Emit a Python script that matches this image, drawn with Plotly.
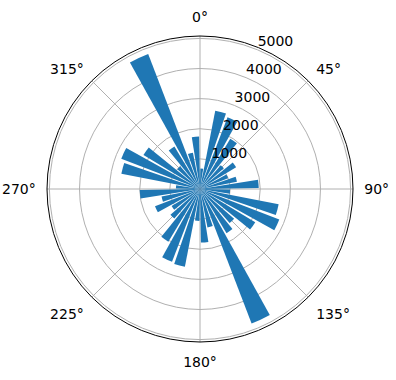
import plotly.graph_objects as go

# Direction bin centres (degrees, clockwise from north)
directions = [5, 15, 25, 35, 45, 55, 65, 75, 85,
              95, 105, 115, 125, 135, 145, 155, 165, 175,
              185, 195, 205, 215, 225, 235, 245, 255, 265,
              275, 285, 295, 305, 315, 325, 335, 345, 355]
counts = [680, 2650, 2550, 1950, 1050, 1400, 1000, 1250, 1950,
          1000, 2660, 2820, 2140, 1500, 1710, 4780, 1300, 1780,
          1060, 2630, 2590, 2040, 1300, 1100, 1600, 1300, 2000,
          800, 2660, 2800, 2190, 1000, 1650, 4800, 1230, 1740]
radial_ticks = [1000, 2000, 3000, 4000, 5000]
angle_ticks = [0, 45, 90, 135, 180, 225, 270, 315]
angle_labels = ["0°", "45°", "90°", "135°", "180°", "225°", "270°", "315°"]

R_MAX = 5080
RLABEL_ANGLE = 22.5

fig = go.Figure()
fig.add_trace(go.Barpolar(
    r=counts,
    theta=directions,
    width=[8] * len(directions),
    marker=dict(color="#1f77b4", line=dict(width=0)),
    hoverinfo="skip",
))
# radial tick labels (matplotlib-style: left/bottom anchored on the 22.5° ray)
fig.add_trace(go.Scatterpolar(
    r=radial_ticks,
    theta=[RLABEL_ANGLE] * len(radial_ticks),
    mode="text",
    text=[str(v) for v in radial_ticks],
    textposition="top right",
    textfont=dict(family="DejaVu Sans", size=14, color="black"),
    cliponaxis=False,
    hoverinfo="skip",
))

fig.update_layout(
    width=396, height=380,
    margin=dict(l=47, r=43, t=36, b=38),
    paper_bgcolor="white",
    showlegend=False,
    font=dict(family="DejaVu Sans", size=14, color="black"),
    polar=dict(
        bgcolor="white",
        radialaxis=dict(
            range=[0, R_MAX],
            tickvals=radial_ticks,
            showticklabels=False,
            showline=False,
            ticks="",
            gridcolor="#b0b0b0",
            gridwidth=0.8,
            layer="above traces",
        ),
        angularaxis=dict(
            rotation=90,
            direction="clockwise",
            tickvals=angle_ticks,
            ticktext=angle_labels,
            showline=True,
            linecolor="black",
            linewidth=1,
            ticks="outside",
            ticklen=8,
            tickcolor="rgba(0,0,0,0)",
            gridcolor="#b0b0b0",
            gridwidth=0.8,
            layer="above traces",
            tickfont=dict(family="DejaVu Sans", size=14, color="black"),
        ),
    ),
)

fig.write_html("out.html")
